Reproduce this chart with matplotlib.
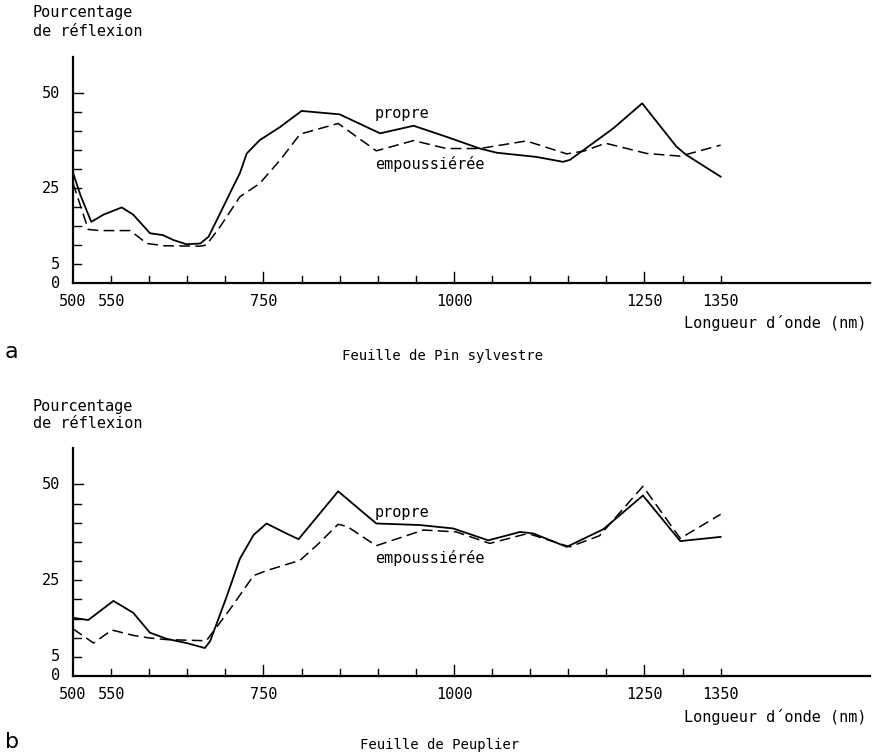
import matplotlib
matplotlib.use("Agg")
import matplotlib.pyplot as plt

plt.rcParams['font.family'] = ['DejaVu Sans Mono']

# ---- data (wavelength nm, reflexion %) ----
pin_propre_nm = [500, 510, 524, 540, 564, 579, 601, 618, 632, 649, 667, 678, 693, 710, 719, 728, 745, 772, 800,
                 850, 903, 947, 990, 1034, 1056, 1108, 1143, 1152, 1170, 1209, 1247, 1292, 1305, 1350]
pin_propre_v = [29, 23, 16.1, 18, 19.9, 18, 13.1, 12.6, 11.3, 10.2, 10.4, 12.2, 18.3, 25.3, 28.9, 34.1, 37.6, 41.1, 45.3,
                44.4, 39.4, 41.4, 38.5, 35.4, 34.3, 33.2, 31.9, 32.4, 35, 40.7, 47.3, 35.9, 33.7, 28]
pin_emp_nm = [500, 520, 535, 575, 597, 620, 667, 675, 693, 719, 745, 772, 798, 848, 898, 947, 990, 1034, 1095,
              1148, 1170, 1199, 1253, 1297, 1350]
pin_emp_v = [26.3, 14.1, 13.8, 13.8, 10.4, 9.8, 9.7, 10, 14.8, 22.7, 26.2, 32.4, 39.2, 42, 34.8, 37.5, 35.4, 35.4, 37.4,
             34, 34.7, 36.8, 34.1, 33.4, 36.3]

peu_propre_nm = [500, 520, 553, 579, 601, 623, 649, 673, 680, 702, 719, 737, 754, 780, 796, 848, 898, 955, 999,
                 1045, 1087, 1104, 1148, 1196, 1248, 1297, 1350]
peu_propre_v = [15.2, 14.6, 19.6, 16.5, 11.3, 9.7, 8.6, 7.3, 9.1, 20.9, 30.6, 36.8, 39.8, 37.2, 35.7, 48.2, 39.8, 39.4,
                38.5, 35.4, 37.6, 37.2, 33.7, 38.3, 47.1, 35.2, 36.3]
peu_emp_nm = [500, 527, 551, 579, 601, 623, 675, 706, 737, 754, 798, 820, 848, 860, 898, 960, 1003, 1047, 1097,
              1152, 1191, 1248, 1297, 1350]
peu_emp_v = [12.3, 8.6, 12, 10.6, 9.9, 9.5, 9.2, 17.4, 26.2, 27.5, 30.2, 34.1, 39.6, 39, 34, 38.1, 37.6, 34.6, 37.2,
             33.7, 36.6, 49.5, 35.9, 42.2]

x_ticks_all = list(range(550, 1351, 50))
x_ticks_major = [750, 1000, 1250]
x_labels = [500, 550, 750, 1000, 1250, 1350]
y_ticks = [5, 10, 15, 20, 25, 30, 35, 40, 45, 50]
y_labels = [0, 5, 25, 50]

W, H = 874, 756
fig = plt.figure(figsize=(W / 100, H / 100), dpi=100)
FS = 11


def px_axes(left, bottom_px, right, top_px):
    return fig.add_axes([left / W, 1 - bottom_px / H, (right - left) / W, (bottom_px - top_px) / H])


def draw_panel(ax, propre, emp, txt_propre, txt_emp):
    ax.plot(propre[0], propre[1], color='black', lw=1.3, solid_joinstyle='round')
    ax.plot(emp[0], emp[1], color='black', lw=1.1, dashes=(7, 3.5))
    ax.set_xlim(500, 1546)
    ax.set_ylim(0, 59.5)
    for s in ['top', 'right']:
        ax.spines[s].set_visible(False)
    for s in ['left', 'bottom']:
        ax.spines[s].set_linewidth(1.6)
    ax.set_xticks([])
    ax.set_yticks([])
    # ticks drawn inward
    for t in x_ticks_all:
        h = 2.9 if t in x_ticks_major else 1.9
        ax.plot([t, t], [0, h], color='black', lw=1.0, clip_on=False)
    for t in y_ticks:
        ax.plot([500, 500 + (13 if t == 50 else 10)], [t, t], color='black', lw=1.0, clip_on=False)
    for v in y_labels:
        ax.text(483, v, str(v), ha='right', va='center', fontsize=FS)
    for v in x_labels:
        ax.text(v, -4.8, str(v), ha='center', va='center', fontsize=FS)
    ax.text(1541, -10.6, "Longueur d\u00b4onde (nm)", ha='right', va='center', fontsize=FS)
    ax.text(896, txt_propre, "propre", ha='left', va='center', fontsize=FS)
    ax.text(897, txt_emp, "empoussiérée", ha='left', va='center', fontsize=FS)


ax1 = px_axes(73, 283, 870, 57)
draw_panel(ax1, (pin_propre_nm, pin_propre_v), (pin_emp_nm, pin_emp_v), 44.7, 31.3)
ax2 = px_axes(73, 676, 870, 448)
draw_panel(ax2, (peu_propre_nm, peu_propre_v), (peu_emp_nm, peu_emp_v), 42.7, 30.9)

fig.text(33 / W, 1 - 13 / H, "Pourcentage", ha='left', va='center', fontsize=FS)
fig.text(33 / W, 1 - 31 / H, "de réflexion", ha='left', va='center', fontsize=FS)
fig.text(33 / W, 1 - 407 / H, "Pourcentage", ha='left', va='center', fontsize=FS)
fig.text(33 / W, 1 - 424 / H, "de réflexion", ha='left', va='center', fontsize=FS)

fig.text(5 / W, 1 - 352 / H, "a", ha='left', va='center', fontsize=16, family='DejaVu Sans')
fig.text(442 / W, 1 - 356 / H, "Feuille de Pin sylvestre", ha='center', va='center', fontsize=10)
fig.text(5 / W, 1 - 742 / H, "b", ha='left', va='center', fontsize=16, family='DejaVu Sans')
fig.text(440 / W, 1 - 745 / H, "Feuille de Peuplier", ha='center', va='center', fontsize=10)

fig.savefig("out.png", dpi=100)
